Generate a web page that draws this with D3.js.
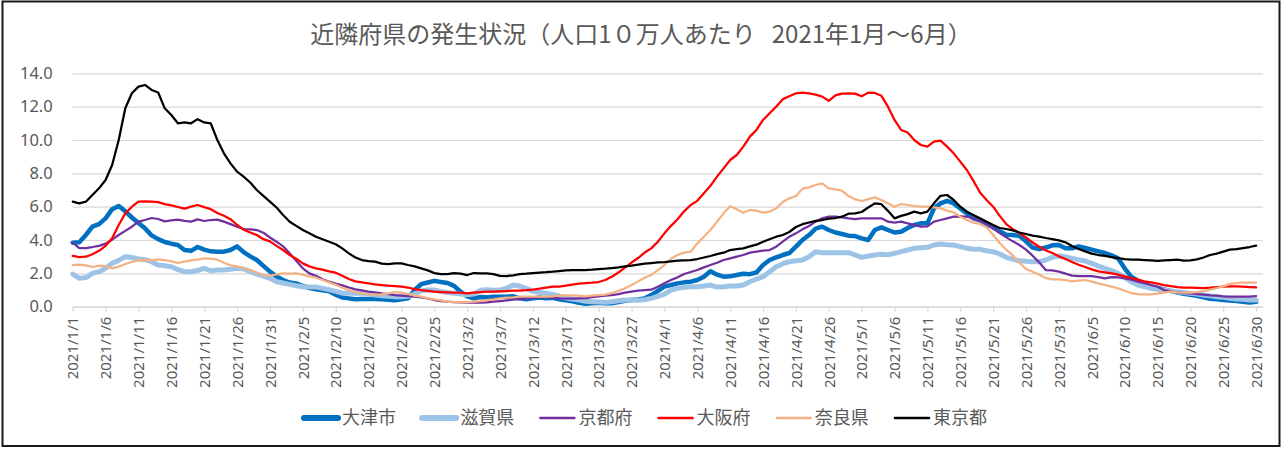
<!DOCTYPE html>
<html>
<head>
<meta charset="utf-8">
<script src="https://cdn.jsdelivr.net/npm/d3@7"></script>
<style>
  body { margin: 0; background: #fff; }
  svg { display: block; }
  .tick-label { font-family: "Noto Sans", sans-serif; fill: #595959; }
</style>
</head>
<body>
<svg id="chart" width="1282" height="449"></svg>
<script>
// daily values, 2021/1/1 .. 2021/6/30 (人口10万人あたり)
const startDate = Date.UTC(2021, 0, 1);

const otsu = [
  3.84, 3.86, 4.3, 4.8, 4.95, 5.3, 5.85, 6.04, 5.72, 5.35,
  5.02, 4.7, 4.28, 4.05, 3.88, 3.78, 3.7, 3.4, 3.35, 3.58,
  3.42, 3.32, 3.3, 3.3, 3.4, 3.62, 3.28, 3.02, 2.8, 2.45,
  2.1, 1.82, 1.6, 1.45, 1.4, 1.24, 1.12, 1.05, 0.98, 0.92,
  0.72, 0.55, 0.5, 0.45, 0.46, 0.46, 0.46, 0.44, 0.42, 0.38,
  0.45, 0.5, 1.0, 1.35, 1.45, 1.55, 1.48, 1.42, 1.25, 0.9,
  0.62, 0.5, 0.58, 0.56, 0.6, 0.6, 0.6, 0.62, 0.5, 0.45,
  0.5, 0.55, 0.5, 0.54, 0.45, 0.38, 0.33, 0.24, 0.18, 0.2,
  0.24, 0.2, 0.2, 0.28, 0.36, 0.4, 0.44, 0.5, 0.7, 0.95,
  1.2, 1.3, 1.4, 1.46, 1.5, 1.6, 1.8, 2.12, 1.92, 1.8,
  1.82, 1.9, 1.98, 1.95, 2.05, 2.5, 2.8, 2.96, 3.1, 3.22,
  3.6, 4.0, 4.3, 4.68, 4.8, 4.6, 4.45, 4.36, 4.26, 4.24,
  4.1, 4.0, 4.6, 4.76, 4.6, 4.45, 4.5, 4.72, 4.9, 5.0,
  5.0, 5.9, 6.2, 6.35, 6.2, 5.9, 5.6, 5.3, 5.18, 4.98,
  4.76, 4.52, 4.32, 4.3, 4.24, 3.92, 3.55, 3.45, 3.55, 3.68,
  3.7, 3.5, 3.5, 3.62, 3.52, 3.42, 3.32, 3.22, 3.08, 2.9,
  2.3, 1.8, 1.56, 1.38, 1.2, 1.12, 1.04, 0.95, 0.85, 0.78,
  0.72, 0.65, 0.56, 0.48, 0.44, 0.4, 0.37, 0.34, 0.3, 0.25, 0.3
];

const shiga = [
  1.96, 1.7, 1.75, 2.0, 2.1, 2.3, 2.6, 2.78, 3.0, 2.95,
  2.86, 2.82, 2.7, 2.5, 2.46, 2.4, 2.22, 2.1, 2.1, 2.18,
  2.3, 2.15, 2.2, 2.2, 2.24, 2.3, 2.26, 2.1, 1.96, 1.84,
  1.7, 1.5, 1.42, 1.34, 1.26, 1.2, 1.18, 1.18, 1.1, 1.02,
  0.92, 0.82, 0.8, 0.8, 0.8, 0.78, 0.7, 0.66, 0.62, 0.6,
  0.6, 0.62, 0.76, 0.95, 1.0, 1.0, 0.92, 0.85, 0.8, 0.76,
  0.72, 0.76, 0.98, 1.02, 0.98, 1.0, 1.12, 1.3, 1.24, 1.1,
  0.92, 0.86, 0.8, 0.74, 0.64, 0.52, 0.46, 0.4, 0.32, 0.3,
  0.28, 0.26, 0.3, 0.36, 0.4, 0.4, 0.38, 0.42, 0.5, 0.62,
  0.76, 1.0, 1.1, 1.16, 1.2, 1.2, 1.24, 1.3, 1.18, 1.2,
  1.24, 1.24, 1.3, 1.5, 1.66, 1.8, 2.1, 2.4, 2.58, 2.7,
  2.76, 2.8, 3.0, 3.3, 3.24, 3.24, 3.24, 3.24, 3.24, 3.1,
  2.96, 3.04, 3.1, 3.14, 3.12, 3.2, 3.3, 3.4, 3.5, 3.54,
  3.56, 3.7, 3.76, 3.72, 3.7, 3.6, 3.5, 3.45, 3.44, 3.36,
  3.3, 3.16, 2.96, 2.84, 2.76, 2.72, 2.7, 2.7, 2.8, 2.96,
  3.04, 3.0, 2.9, 2.82, 2.74, 2.6, 2.44, 2.3, 2.16, 2.0,
  1.76, 1.5, 1.3, 1.2, 1.1, 1.04, 1.0, 0.95, 0.9, 0.85,
  0.8, 0.76, 0.7, 0.65, 0.6, 0.56, 0.5, 0.46, 0.44, 0.4, 0.4
];

const kyoto = [
  3.84, 3.52, 3.52, 3.58, 3.65, 3.78, 4.02, 4.3, 4.55, 4.8,
  5.1, 5.2, 5.32, 5.26, 5.12, 5.18, 5.22, 5.15, 5.1, 5.24,
  5.14, 5.2, 5.22, 5.1, 4.95, 4.8, 4.66, 4.64, 4.6, 4.44,
  4.15, 3.9, 3.62, 3.2, 2.75, 2.3, 2.0, 1.85, 1.65, 1.5,
  1.38, 1.28, 1.15, 1.04, 0.98, 0.9, 0.86, 0.8, 0.76, 0.7,
  0.67, 0.64, 0.6, 0.56, 0.5, 0.4, 0.34, 0.3, 0.28, 0.26,
  0.24, 0.24, 0.24, 0.26, 0.3, 0.34, 0.38, 0.42, 0.46, 0.5,
  0.53, 0.56, 0.56, 0.54, 0.5, 0.48, 0.48, 0.5, 0.52, 0.58,
  0.62, 0.66, 0.7, 0.76, 0.84, 0.9, 0.96, 1.0, 1.02, 1.2,
  1.4, 1.6, 1.76, 1.96, 2.08, 2.2, 2.36, 2.5, 2.64, 2.8,
  2.9, 3.0, 3.1, 3.24, 3.3, 3.36, 3.4, 3.6, 3.9, 4.2,
  4.4, 4.64, 4.84, 5.1, 5.3, 5.4, 5.4, 5.36, 5.3, 5.26,
  5.3, 5.3, 5.3, 5.3, 5.1, 5.04, 5.1, 5.0, 4.9, 4.8,
  4.82, 5.1, 5.2, 5.3, 5.4, 5.42, 5.4, 5.3, 5.16, 4.96,
  4.7, 4.42, 4.16, 3.92, 3.7, 3.42, 3.06, 2.66, 2.2, 2.18,
  2.1, 1.98, 1.86, 1.84, 1.84, 1.84, 1.78, 1.7, 1.78, 1.76,
  1.7, 1.62, 1.5, 1.42, 1.3, 1.2, 1.0, 0.92, 0.86, 0.82,
  0.8, 0.76, 0.72, 0.68, 0.66, 0.62, 0.6, 0.6, 0.6, 0.6, 0.64
];

const osaka = [
  3.05, 2.98, 3.0, 3.15, 3.35, 3.65, 4.1, 4.9, 5.6, 6.0,
  6.3, 6.32, 6.3, 6.27, 6.15, 6.08, 5.98, 5.88, 6.0, 6.1,
  5.97, 5.85, 5.62, 5.45, 5.25, 4.9, 4.62, 4.45, 4.3, 4.05,
  3.92, 3.65, 3.4, 3.1, 2.88, 2.6, 2.42, 2.3, 2.22, 2.12,
  2.04, 1.86, 1.66, 1.52, 1.46, 1.4, 1.34, 1.3, 1.26, 1.24,
  1.2, 1.15, 1.05, 1.0, 0.95, 0.9, 0.88, 0.86, 0.84, 0.84,
  0.8, 0.84, 0.88, 0.9, 0.9, 0.92, 0.94, 0.96, 0.96, 0.99,
  1.03, 1.08, 1.14, 1.2, 1.2, 1.26, 1.33, 1.38, 1.42, 1.44,
  1.48, 1.6, 1.8, 2.05, 2.35, 2.65, 2.92, 3.25, 3.5, 3.9,
  4.4, 4.85, 5.25, 5.72, 6.1, 6.35, 6.8, 7.25, 7.8, 8.3,
  8.8, 9.1, 9.6, 10.2, 10.6, 11.2, 11.6, 12.0, 12.45, 12.62,
  12.8, 12.84, 12.8, 12.72, 12.6, 12.35, 12.68, 12.78, 12.8, 12.78,
  12.62, 12.84, 12.82, 12.65, 12.0, 11.2, 10.6, 10.45, 10.0, 9.7,
  9.6, 9.9, 9.96, 9.6, 9.2, 8.7, 8.2, 7.55, 6.85, 6.4,
  6.0, 5.45, 4.95, 4.65, 4.42, 4.15, 3.85, 3.6, 3.38, 3.22,
  3.02, 2.86, 2.68, 2.52, 2.38, 2.24, 2.12, 2.06, 2.0, 1.92,
  1.82, 1.72, 1.62, 1.52, 1.46, 1.38, 1.3, 1.24, 1.18, 1.15,
  1.14, 1.13, 1.12, 1.14, 1.18, 1.2, 1.22, 1.22, 1.2, 1.18, 1.16
];

const nara = [
  2.5, 2.52, 2.48, 2.38, 2.46, 2.44, 2.3, 2.4, 2.56, 2.68,
  2.78, 2.8, 2.78, 2.84, 2.8, 2.72, 2.62, 2.7, 2.78, 2.82,
  2.9, 2.88, 2.82, 2.64, 2.48, 2.42, 2.3, 2.2, 2.04, 1.9,
  1.86, 1.94, 2.0, 1.98, 2.0, 1.92, 1.82, 1.74, 1.6, 1.46,
  1.32, 1.14, 1.0, 0.88, 0.8, 0.76, 0.72, 0.74, 0.8, 0.88,
  0.84, 0.76, 0.66, 0.6, 0.52, 0.44, 0.38, 0.3, 0.28, 0.26,
  0.28, 0.3, 0.34, 0.4, 0.44, 0.5, 0.54, 0.56, 0.6, 0.6,
  0.6, 0.6, 0.6, 0.62, 0.66, 0.68, 0.68, 0.66, 0.62, 0.66,
  0.7, 0.72, 0.82, 0.94, 1.1, 1.3, 1.52, 1.74, 1.9, 2.2,
  2.5, 2.88, 3.1, 3.24, 3.3, 3.8, 4.2, 4.6, 5.1, 5.6,
  6.02, 5.84, 5.64, 5.8, 5.76, 5.64, 5.7, 5.9, 6.28, 6.5,
  6.64, 7.08, 7.16, 7.3, 7.4, 7.1, 7.04, 6.96, 6.64, 6.44,
  6.34, 6.45, 6.56, 6.4, 6.2, 6.0, 6.16, 6.1, 6.04, 6.0,
  6.0, 5.96, 5.9, 5.76, 5.65, 5.4, 5.2, 5.04, 4.96, 4.76,
  4.3, 3.82, 3.42, 3.06, 2.64, 2.26, 2.1, 1.92, 1.72, 1.64,
  1.64, 1.6, 1.52, 1.56, 1.6, 1.5, 1.4, 1.3, 1.2, 1.1,
  0.96, 0.82, 0.76, 0.74, 0.74, 0.78, 0.84, 0.9, 0.86, 0.84,
  0.84, 0.88, 0.94, 1.02, 1.12, 1.22, 1.36, 1.42, 1.44, 1.44, 1.44
];

const tokyo = [
  6.3, 6.2, 6.3, 6.7, 7.1, 7.6, 8.5, 10.0, 11.9, 12.8,
  13.2, 13.3, 13.0, 12.85, 11.9, 11.5, 11.0, 11.05, 11.0, 11.25,
  11.05, 11.0, 10.0, 9.2, 8.6, 8.1, 7.8, 7.45, 7.0, 6.65,
  6.3, 5.95, 5.5, 5.1, 4.85, 4.6, 4.4, 4.2, 4.05, 3.9,
  3.75, 3.5, 3.2, 2.95, 2.8, 2.74, 2.7, 2.58, 2.56, 2.6,
  2.6, 2.5, 2.42, 2.3, 2.18, 2.02, 1.95, 1.96, 2.02, 1.98,
  1.9, 2.02, 2.0, 2.0, 1.95, 1.85, 1.84, 1.88, 1.95, 1.98,
  2.02, 2.05, 2.07, 2.1, 2.14, 2.18, 2.2, 2.2, 2.2, 2.22,
  2.25, 2.28, 2.32, 2.36, 2.42, 2.46, 2.52, 2.58, 2.62, 2.66,
  2.68, 2.72, 2.76, 2.78, 2.8, 2.86, 2.95, 3.04, 3.15, 3.24,
  3.4, 3.45, 3.5, 3.62, 3.72, 3.9, 4.05, 4.2, 4.3, 4.48,
  4.78, 4.95, 5.05, 5.15, 5.2, 5.28, 5.32, 5.4, 5.58, 5.6,
  5.68, 5.95, 6.2, 6.15, 5.75, 5.3, 5.45, 5.55, 5.7, 5.6,
  5.7, 6.2, 6.65, 6.7, 6.4, 6.0, 5.7, 5.5, 5.3, 5.1,
  4.9, 4.72, 4.66, 4.58, 4.45, 4.36, 4.26, 4.2, 4.12, 4.05,
  3.98, 3.86, 3.64, 3.46, 3.32, 3.18, 3.1, 3.05, 2.98, 2.92,
  2.86, 2.82, 2.82, 2.8, 2.78, 2.75, 2.78, 2.8, 2.82, 2.76,
  2.78, 2.84, 2.95, 3.1, 3.18, 3.3, 3.42, 3.46, 3.52, 3.58, 3.66
];

const seriesNames = ['大津市', '滋賀県', '京都府', '大阪府', '奈良県', '東京都'];
const seriesColors = ['#0070C0', '#9DC3E6', '#7030A0', '#FF0000', '#F4B183', '#000000'];
const seriesWidths = [4.5, 5, 2.25, 2.25, 2.25, 2.25];
const yTicks = [0, 2, 4, 6, 8, 10, 12, 14];

const titleText = '近隣府県の発生状況（人口1０万人あたり\u00a0\u00a0\u00a02021年1月～6月）';

const svg = d3.select('#chart');
const width = +svg.attr('width');

const allSeries = [otsu, shiga, kyoto, osaka, nara, tokyo];
const dayOf = i => d3.utcDay.offset(new Date(startDate), i);

const x = d3.scaleUtc()
  .domain([new Date(startDate), d3.utcDay.offset(new Date(startDate), otsu.length)])
  .range([72.7, 1262.7]);

const y = d3.scaleLinear()
  .domain([0, 14])
  .range([306.7, 73.3]);

// outer frame
svg.append('rect')
  .attr('x', 2.5).attr('y', 1.5)
  .attr('width', width - 5).attr('height', 444.5)
  .attr('fill', 'none')
  .attr('stroke', '#1a1a1a')
  .attr('stroke-width', 2);

// title
svg.append('text')
  .attr('x', 641).attr('y', 43)
  .attr('text-anchor', 'middle')
  .style('font-family', '"Noto Sans CJK JP", sans-serif')
  .style('font-size', '24px')
  .style('fill', '#595959')
  .text(titleText);

// horizontal grid + y labels
const yAxis = d3.axisLeft(y)
  .tickValues(yTicks)
  .tickSize(-(x.range()[1] - x.range()[0]))
  .tickFormat(d3.format('.1f'));

const yG = svg.append('g')
  .attr('transform', `translate(${x.range()[0]},0)`)
  .call(yAxis);
yG.select('.domain').remove();
yG.selectAll('.tick line')
  .attr('stroke', '#D9D9D9')
  .attr('stroke-width', 1.2);
yG.selectAll('.tick text')
  .attr('class', 'tick-label')
  .attr('x', -20)
  .style('font-size', '16.5px');

// x axis
const xTickDates = d3.range(0, otsu.length, 5).map(dayOf);
const xAxis = d3.axisBottom(x)
  .tickValues(xTickDates)
  .tickSize(5)
  .tickSizeOuter(0)
  .tickFormat(d3.utcFormat('%Y/%-m/%-d'));

const xG = svg.append('g')
  .attr('transform', `translate(0,${y(0)})`)
  .call(xAxis);
xG.select('.domain').attr('stroke', '#D9D9D9').attr('stroke-width', 1.5);
xG.selectAll('.tick line').attr('stroke', '#D9D9D9').attr('stroke-width', 1.2);
xG.selectAll('.tick text')
  .attr('class', 'tick-label')
  .style('font-size', '15px')
  .attr('text-anchor', 'end')
  .attr('transform', 'rotate(-90)')
  .attr('x', -10)
  .attr('y', 0)
  .attr('dy', '0.35em');

// lines
const line = d3.line()
  .x((d, i) => x(dayOf(i)))
  .y(d => y(d));

allSeries.forEach((s, k) => {
  svg.append('path')
    .datum(s)
    .attr('fill', 'none')
    .attr('stroke', seriesColors[k])
    .attr('stroke-width', seriesWidths[k])
    .attr('stroke-linejoin', 'round')
    .attr('stroke-linecap', 'round')
    .attr('d', line);
});

// legend
const legend = svg.append('g').attr('transform', 'translate(302,418)');
seriesNames.forEach((name, k) => {
  const item = legend.append('g').attr('transform', `translate(${k * 118.2},0)`);
  item.append('line')
    .attr('x1', 2).attr('x2', 36)
    .attr('stroke', seriesColors[k])
    .attr('stroke-width', k < 2 ? 6 : 2.5)
    .attr('stroke-linecap', 'round');
  item.append('text')
    .attr('x', 40).attr('dy', '0.35em')
    .style('font-family', '"Noto Sans CJK JP", sans-serif')
    .style('font-size', '18px')
    .style('fill', '#595959')
    .text(name);
});
</script>
</body>
</html>
